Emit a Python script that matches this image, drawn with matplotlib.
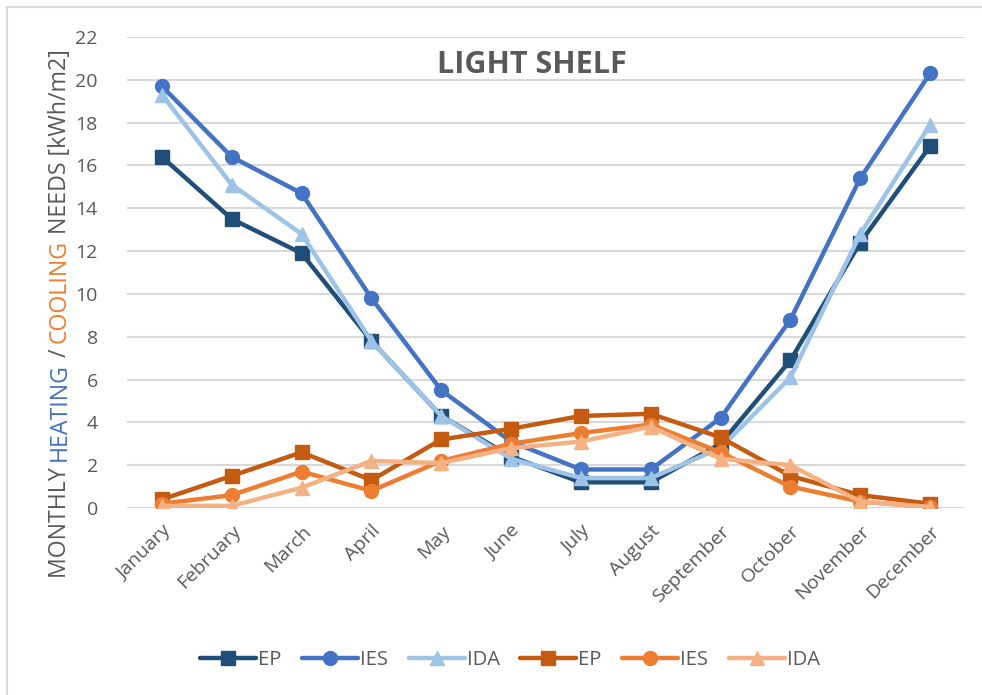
import matplotlib
matplotlib.use("Agg")
from matplotlib import pyplot as plt
from matplotlib.patches import Rectangle
import numpy as np

months = ["January", "February", "March", "April", "May", "June", "July",
          "August", "September", "October", "November", "December"]

heat_ep = [16.4, 13.5, 11.9, 7.8, 4.3, 2.4, 1.2, 1.2, 3.0, 6.9, 12.4, 16.9]
heat_ies = [19.7, 16.4, 14.7, 9.8, 5.5, 3.1, 1.8, 1.8, 4.2, 8.8, 15.4, 20.3]
heat_ida = [19.3, 15.1, 12.8, 7.8, 4.3, 2.3, 1.4, 1.4, 2.8, 6.1, 12.8, 17.9]

cool_ep = [0.4, 1.5, 2.6, 1.3, 3.2, 3.7, 4.3, 4.4, 3.3, 1.5, 0.6, 0.2]
cool_ies = [0.2, 0.6, 1.7, 0.8, 2.2, 3.0, 3.5, 3.9, 2.6, 1.0, 0.3, 0.05]
cool_ida = [0.1, 0.1, 0.95, 2.2, 2.1, 2.8, 3.1, 3.8, 2.3, 2.0, 0.3, 0.05]

series = [
    ("EP", heat_ep, "#1F4E79", "s"),
    ("IES", heat_ies, "#4472C4", "o"),
    ("IDA", heat_ida, "#9DC3E6", "^"),
    ("EP", cool_ep, "#C55A11", "s"),
    ("IES", cool_ies, "#ED7D31", "o"),
    ("IDA", cool_ida, "#F4B183", "^"),
]

plt.rcParams['font.family'] = ['Open Sans', 'DejaVu Sans']
grey = "#595959"

fig = plt.figure(figsize=(9.82, 6.95), dpi=100)
fig.patches.append(Rectangle((7 / 982, -0.01), 1.0, 1 - 7 / 695 + 0.01,
                             transform=fig.transFigure, fill=False,
                             edgecolor="#D9D9D9", linewidth=1.5))
ax = fig.add_axes([127 / 982, 187 / 695, (965 - 127) / 982, (508 - 37) / 695])

x = np.arange(len(months))
for name, vals, col, mk in series:
    ax.plot(x, vals, color=col, marker=mk, markersize=10, linewidth=3.2,
            label=name, solid_capstyle="round")

ax.set_xlim(-0.5, 11.5)
ax.set_ylim(0, 22)
ax.set_yticks(range(0, 23, 2))
ax.set_xticks(x)
ax.set_xticklabels(months, rotation=45, ha="right", rotation_mode="anchor")
ax.tick_params(axis="both", length=0, labelsize=14, colors=grey)
ax.tick_params(axis="y", pad=21)
ax.tick_params(axis="x", pad=10)
ax.grid(axis="y", color="#D9D9D9", linewidth=1.5)
ax.set_axisbelow(True)
for s in ax.spines.values():
    s.set_visible(False)

ax.text(532 / 982, 1 - 65 / 695, "LIGHT SHELF", transform=fig.transFigure,
        ha="center", va="center", fontsize=22, fontweight="bold", color=grey)

leg = fig.legend(loc="center", bbox_to_anchor=(510 / 982, 1 - 660 / 695),
                 ncol=6, frameon=False, fontsize=14.5, handlelength=2.8,
                 columnspacing=1.0, handletextpad=0.1)
for t in leg.get_texts():
    t.set_color(grey)

# multicolour y label, built from the bottom up
parts = [("MONTHLY ", grey), ("HEATING", "#4472C4"), (" / ", grey),
         ("COOLING", "#ED7D31"), (" NEEDS [kWh/m2]", grey)]
fig.canvas.draw()
r = fig.canvas.get_renderer()
ypix = 578
for txt, col in parts:
    t = fig.text(60 / 982, 1 - ypix / 695, txt, rotation=90, color=col,
                 fontsize=16.7, ha="center", va="bottom")
    bb = t.get_window_extent(renderer=r)
    ypix -= bb.height

plt.savefig("out.png", dpi=100)
